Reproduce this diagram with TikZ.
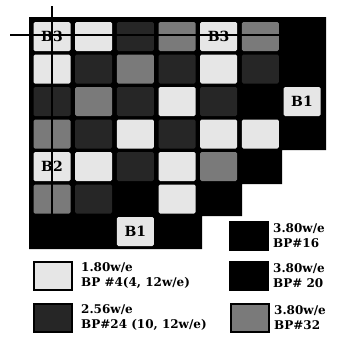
\documentclass[tikz,border=0pt]{standalone}
\usepackage{fontspec}
\setmainfont{DejaVu Serif}
\usetikzlibrary{positioning}
\definecolor{bpink}{HTML}{000000}
\definecolor{bplite}{HTML}{E6E6E6}
\definecolor{bpdark}{HTML}{262626}
\definecolor{bpgrey}{HTML}{7A7A7A}
\tikzset{
  bp/.style={font=\bfseries, text=bpink},
  cellL/.style={fill=bplite, rounded corners=1.5pt, minimum width=37pt,
    minimum height=29pt, inner sep=0pt, font=\fontsize{14}{14}\selectfont\bfseries},
  cellM/.style={cellL, fill=bpdark},
  cellG/.style={cellL, fill=bpgrey},
  bpkey/.style={draw=bpink, line width=2pt, minimum width=38pt,
    minimum height=28pt, inner sep=0pt},
  bplbl/.style={font=\fontsize{12}{15}\selectfont\bfseries, align=left,
    inner sep=0pt, text=bpink},
  bpmark/.style={draw=bpink, line width=1.6pt},
}
\newcommand{\bpcell}[3]{\node[cell#3] (c#1#2) at ({52+41.67*(#2-1)},{36.5+32.5*(#1-1)}) {};}

\begin{document}
\begin{tikzpicture}[bp, x=1pt, y=-1pt]
  \useasboundingbox (0,0) rectangle (339,338);
  % floor plan, unit blocks on black
  \fill[bpink] (29,17) -- (326,17) -- (326,150) -- (282,150) -- (282,184)
    -- (242,184) -- (242,216) -- (202,216) -- (202,249) -- (29,249) -- cycle;
  \foreach \c/\t in {1/L,2/L,3/M,4/G,5/L,6/G} {\bpcell{1}{\c}{\t}}
  \foreach \c/\t in {1/L,2/M,3/G,4/M,5/L,6/M} {\bpcell{2}{\c}{\t}}
  \foreach \c/\t in {1/M,2/G,3/M,4/L,5/M,7/L} {\bpcell{3}{\c}{\t}}
  \foreach \c/\t in {1/G,2/M,3/L,4/M,5/L,6/L} {\bpcell{4}{\c}{\t}}
  \foreach \c/\t in {1/L,2/L,3/M,4/L,5/G} {\bpcell{5}{\c}{\t}}
  \foreach \c/\t in {1/G,2/M,4/L} {\bpcell{6}{\c}{\t}}
  \bpcell{7}{3}{L}
  % registration mark
  \coordinate (vtop) at (52,6);
  \coordinate (vbot) at (52,249);
  \coordinate (hlft) at (10,35);
  \coordinate (hrgt) at (326,35);
  \draw[bpmark] (vtop) -- (vbot);
  \draw[bpmark] (hlft) -- (hrgt);
  % block labels
  \node[cellL, fill=none] at (c11) {B3};
  \node[cellL, fill=none] at (c15) {B3};
  \node[cellL, fill=none] at (c37) {B1};
  \node[cellL, fill=none] at (c51) {B2};
  \node[cellL, fill=none] at (c73) {B1};
  % legend
  \node[bpkey, fill=bpink] (kK1) at (249,236) {};
  \node[bplbl, right=4pt of kK1] (tK1) {3.80w/e\\BP\#16};
  \node[bpkey, fill=bpink] (kK2) at (249,276) {};
  \node[bplbl, right=4pt of kK2] (tK2) {3.80w/e\\BP\# 20};
  \node[bpkey, fill=bpgrey] (kG) at (250,318) {};
  \node[bplbl, right=4pt of kG] (tG) {3.80w/e\\BP\#32};
  \node[bpkey, fill=bplite] (kL) at (53,276) {};
  \node[bplbl, right=8pt of kL] (tL) {1.80w/e\\BP \#4(4, 12w/e)};
  \node[bpkey, fill=bpdark] (kM) at (53,318) {};
  \node[bplbl, right=8pt of kM] (tM) {2.56w/e\\BP\#24 (10, 12w/e)};
\end{tikzpicture}
\end{document}
